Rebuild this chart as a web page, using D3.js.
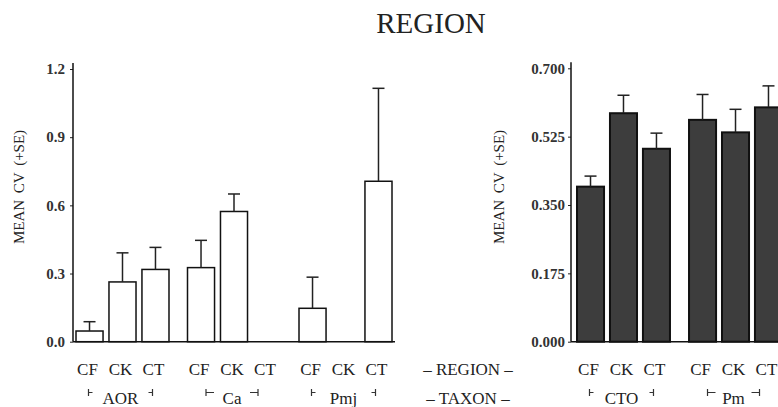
<!DOCTYPE html>
<html>
<head>
<meta charset="utf-8">
<script src="https://cdn.jsdelivr.net/npm/d3@7"></script>
<style>
  body { margin: 0; background: #fff; }
</style>
</head>
<body>
<svg id="graph"></svg>
<script>
// data
var regions = ["CF", "CK", "CT"];

var leftTaxa = ["AOR", "Ca", "Pmj"];
var leftMeans = [[0.047, 0.263, 0.318], [0.326, 0.573, null], [0.147, null, 0.706]];
var leftSE = [[0.041, 0.128, 0.097], [0.120, 0.077, null], [0.137, null, 0.409]];
var leftTicks = [0.0, 0.3, 0.6, 0.9, 1.2];

var rightTaxa = ["CTO", "Pm"];
var rightMeans = [[0.397, 0.585, 0.494], [0.568, 0.536, 0.600]];
var rightSE = [[0.027, 0.046, 0.040], [0.065, 0.059, 0.055]];
var rightTicks = [0.000, 0.175, 0.350, 0.525, 0.700];

var serif = "'Liberation Serif', serif";

var svg = d3.select("#graph")
    .attr("width", 778)
    .attr("height", 407);

// title
svg.append("text")
    .attr("x", 431).attr("y", 33)
    .attr("text-anchor", "middle")
    .style("font-family", serif)
    .style("font-size", "29px")
    .style("fill", "#222")
    .text("REGION");

function label(sel) {
  return sel.style("font-family", serif).style("font-size", "17px").style("fill", "#222");
}

// one panel = axis + grouped bars + labels
function panel(opt) {
  var y = d3.scaleLinear().domain([0, opt.max]).range([341.7, opt.top]);

  var x0 = d3.scaleBand().domain(opt.taxa).range(opt.xr).paddingInner(opt.gap);
  var x1 = d3.scaleBand().domain(regions).range([0, x0.bandwidth()]).paddingInner(0.18);

  var g = svg.append("g");

  // y axis
  var ax = g.append("g")
      .attr("transform", "translate(" + opt.ax + ",0)")
      .call(d3.axisLeft(y).tickValues(opt.ticks).tickFormat(d3.format(opt.fmt)).tickSize(3).tickPadding(opt.pad));
  ax.select(".domain").remove();
  ax.selectAll("text")
      .style("font-size", "15px").style("font-family", serif)
      .style("font-weight", "bold").style("fill", "#333");
  ax.selectAll("line").attr("stroke", "#222");

  g.append("line")
      .attr("x1", opt.ax).attr("x2", opt.ax)
      .attr("y1", y(opt.max) - 6).attr("y2", y(0))
      .attr("stroke", "#111").attr("stroke-width", 1.5);
  g.append("line")
      .attr("x1", opt.ax).attr("x2", opt.xEnd)
      .attr("y1", y(0)).attr("y2", y(0))
      .attr("stroke", "#111").attr("stroke-width", 1.5);

  // y label
  g.append("text")
      .attr("transform", "translate(" + opt.yl + "," + 187 + ") rotate(-90)")
      .attr("text-anchor", "middle")
      .style("font-family", serif)
      .style("font-size", "15px")
      .style("fill", "#222")
      .style("word-spacing", "3px")
      .text("MEAN CV (+SE)");

  // bars
  var rows = [];
  opt.taxa.forEach(function(t, i) {
    regions.forEach(function(r, j) {
      rows.push({taxon: t, region: r, v: opt.means[i][j], se: opt.se[i][j]});
    });
  });
  var has = rows.filter(function(d) { return d.v != null; });

  g.selectAll(".bar")
    .data(has)
    .enter().append("rect")
      .attr("x", function(d) { return x0(d.taxon) + x1(d.region); })
      .attr("y", function(d) { return y(d.v); })
      .attr("width", x1.bandwidth())
      .attr("height", function(d) { return y(0) - y(d.v); })
      .attr("fill", opt.fill)
      .attr("stroke", "#111")
      .attr("stroke-width", opt.sw);

  // error bars
  var cx = function(d) { return x0(d.taxon) + x1(d.region) + x1.bandwidth() / 2; };
  g.selectAll(".err")
    .data(has)
    .enter().append("line")
      .attr("x1", cx).attr("x2", cx)
      .attr("y1", function(d) { return y(d.v); })
      .attr("y2", function(d) { return y(d.v + d.se); })
      .attr("stroke", "#222").attr("stroke-width", 1.5);
  g.selectAll(".cap")
    .data(has)
    .enter().append("line")
      .attr("x1", function(d) { return cx(d) - 6; })
      .attr("x2", function(d) { return cx(d) + 6; })
      .attr("y1", function(d) { return y(d.v + d.se); })
      .attr("y2", function(d) { return y(d.v + d.se); })
      .attr("stroke", "#222").attr("stroke-width", 1.5);

  // region labels
  g.selectAll(".rl")
    .data(rows)
    .enter().append("text")
      .call(label)
      .attr("x", function(d) { return x0(d.taxon) + x1(d.region) + x1.bandwidth() / 2 - 2; })
      .attr("y", 375)
      .attr("text-anchor", "middle")
      .text(function(d) { return d.region; });

  // taxon labels with brackets
  var tl = g.selectAll(".tl")
    .data(opt.taxa)
    .enter().append("g")
      .attr("transform", function(d) { return "translate(" + (x0(d) + x0.bandwidth() / 2 - 2) + ",0)"; });
  tl.append("text")
      .call(label)
      .attr("y", 404)
      .attr("text-anchor", "middle")
      .text(function(d) { return d; });
  tl.append("path")
      .attr("d", function(d) {
        var w = d.length * 6 + 14;
        return "M" + (-w) + ",389v7M" + (-w) + ",392.5h" + (d.length > 2 ? 4 : 8) +
               "M" + (w) + ",389v7M" + (w) + ",392.5h-" + (d.length > 2 ? 4 : 8);
      })
      .attr("fill", "none").attr("stroke", "#333").attr("stroke-width", 1.2);
}

panel({taxa: leftTaxa, means: leftMeans, se: leftSE, ticks: leftTicks, max: 1.2, top: 69,
       fmt: ".1f", xr: [76, 392], gap: 0.166, ax: 73, xEnd: 395, pad: 5, yl: 24,
       fill: "#fff", sw: 1.5});

panel({taxa: rightTaxa, means: rightMeans, se: rightSE, ticks: rightTicks, max: 0.7, top: 68.3,
       fmt: ".3f", xr: [577, 782], gap: 0.17, ax: 571, xEnd: 778, pad: 3, yl: 504,
       fill: "#3d3d3d", sw: 2});

// row captions
label(svg.append("text"))
    .attr("x", 468).attr("y", 375).attr("text-anchor", "middle")
    .text("– REGION –");
label(svg.append("text"))
    .attr("x", 468).attr("y", 404).attr("text-anchor", "middle")
    .text("– TAXON –");
</script>
</body>
</html>
